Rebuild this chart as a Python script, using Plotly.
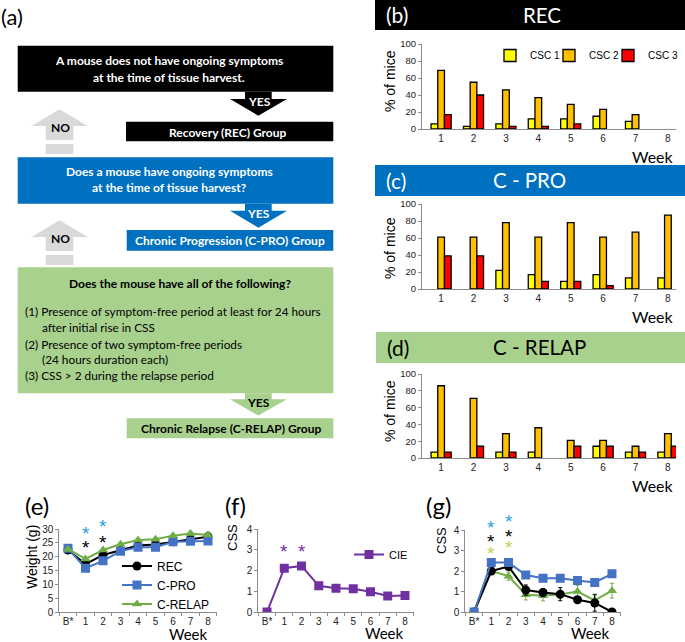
import plotly.graph_objects as go

W, H = 685, 642
def X(px): return px / W
def Y(py): return 1 - py / H

# ---------------- data ----------------
weeks = [1, 2, 3, 4, 5, 6, 7, 8]
csc_labels = ["CSC 1", "CSC 2", "CSC 3"]
rec_csc1 = [6, 3, 6, 12, 12, 15, 9, 0]
rec_csc2 = [69, 55, 46, 37, 29, 23, 17, 0]
rec_csc3 = [17, 40, 3, 3, 6, 0, 0, 0]
cpro_csc1 = [0, 0, 22, 17, 9, 17, 13, 13]
cpro_csc2 = [61, 61, 78, 61, 78, 61, 67, 87]
cpro_csc3 = [39, 39, 0, 9, 9, 4, 0, 0]
crelap_csc1 = [7, 0, 7, 7, 0, 14, 7, 7]
crelap_csc2 = [86, 71, 29, 36, 21, 21, 14, 29]
crelap_csc3 = [7, 14, 7, 0, 14, 14, 7, 14]

time_labels = ["B*", "1", "2", "3", "4", "5", "6", "7", "8"]
time_idx = list(range(9))
weight_rec = [22.4, 17.3, 20.6, 22.2, 24.0, 24.4, 25.4, 26.3, 27.2]
weight_rec_err = [0.4, 0.6, 0.6, 0.5, 0.5, 0.5, 0.6, 0.7, 1.6]
weight_cpro = [23.0, 15.8, 18.5, 22.0, 23.4, 23.4, 25.4, 25.6, 25.7]
weight_cpro_err = [0.4, 0.6, 0.6, 0.5, 0.5, 0.5, 0.5, 0.5, 0.5]
weight_crelap = [22.7, 19.2, 22.4, 24.5, 26.0, 26.3, 27.6, 28.4, 27.8]
weight_crelap_err = [0.4, 0.5, 0.5, 0.5, 0.5, 0.5, 0.5, 0.5, 0.5]

css_cie = [0, 2.11, 2.22, 1.26, 1.15, 1.12, 0.98, 0.77, 0.80]

css_rec = [0, 2.0, 2.22, 1.07, 0.95, 0.87, 0.60, 0.44, 0]
css_rec_err = [0, 0.08, 0.1, 0.25, 0.2, 0.32, 0.12, 0.4, 0]
css_cpro = [0, 2.41, 2.41, 1.80, 1.65, 1.65, 1.54, 1.44, 1.86]
css_cpro_err = [0, 0.1, 0.1, 0.08, 0.08, 0.08, 0.1, 0.1, 0.08]
css_crelap = [0, 2.0, 1.75, 0.84, 0.79, 0.86, 1.0, 0.57, 1.04]
css_crelap_err = [0, 0.1, 0.2, 0.25, 0.25, 0.2, 0.3, 0.3, 0.36]

# ---------------- styles ----------------
bar_colors = ["#ffff00", "#ffc000", "#ff0000"]
legend_entry_widths = [14, 14, 30]
C_REC, C_CPRO, C_CRELAP, C_CIE = "#000000", "#4472c4", "#70ad47", "#7030a0"
BLUE, GREEN, GREY = "#0070c0", "#a9d18e", "#d9d9d9"
AXC = "#8c8c8c"
ARIAL = "Liberation Sans"
CAL = "Lato"

fig = go.Figure()

# ---------------- bar panels ----------------
bar_sets = [
    ([rec_csc1, rec_csc2, rec_csc3], "x", "y"),
    ([cpro_csc1, cpro_csc2, cpro_csc3], "x2", "y2"),
    ([crelap_csc1, crelap_csc2, crelap_csc3], "x3", "y3"),
]
for p, (series, xa, ya) in enumerate(bar_sets):
    for j in range(3):
        vals = series[j]
        fig.add_trace(go.Bar(
            x=weeks, y=vals, name=csc_labels[j], xaxis=xa, yaxis=ya,
            marker=dict(color=bar_colors[j],
                        line=dict(color="black", width=[1.3 if v > 0 else 0 for v in vals])),
            showlegend=(p == 0), legend="legend", legendwidth=legend_entry_widths[j]))

# ---------------- (e) weight ----------------
for name, vals, err, col, sym in [
    ("REC", weight_rec, weight_rec_err, C_REC, "circle"),
    ("C-PRO", weight_cpro, weight_cpro_err, C_CPRO, "square"),
    ("C-RELAP", weight_crelap, weight_crelap_err, C_CRELAP, "triangle-up"),
]:
    fig.add_trace(go.Scatter(
        x=time_idx, y=vals, name=name, mode="lines+markers", xaxis="x4", yaxis="y4",
        line=dict(color=col, width=2), marker=dict(symbol=sym, size=9, color=col),
        error_y=dict(type="data", array=err, color=col, thickness=1, width=2),
        legend="legend2"))

# ---------------- (f) CIE ----------------
fig.add_trace(go.Scatter(
    x=time_idx, y=css_cie, name="CIE", mode="lines+markers", xaxis="x5", yaxis="y5",
    line=dict(color=C_CIE, width=2), marker=dict(symbol="square", size=9, color=C_CIE),
    legend="legend3"))

# ---------------- (g) CSS by group ----------------
for name, vals, err, col, sym in [
    ("C-RELAP", css_crelap, css_crelap_err, C_CRELAP, "triangle-up"),
    ("REC", css_rec, css_rec_err, C_REC, "circle"),
    ("C-PRO", css_cpro, css_cpro_err, C_CPRO, "square"),
]:
    fig.add_trace(go.Scatter(
        x=time_idx, y=vals, name=name, mode="lines+markers", xaxis="x6", yaxis="y6",
        line=dict(color=col, width=2), marker=dict(symbol=sym, size=9, color=col),
        error_y=dict(type="data", array=err, color=col, thickness=1, width=2),
        showlegend=False))

# ---------------- axes ----------------
def bar_x(y_anchor):
    return dict(domain=[X(422), X(676)], range=[0.41, 8.25], tickvals=weeks,
                showline=True, linecolor=AXC, linewidth=1, ticks="", showgrid=False,
                zeroline=False, anchor=y_anchor,
                tickfont=dict(size=10, family=ARIAL, color="#222"))

def bar_y(y0, y100, x_anchor):
    return dict(domain=[Y(y0), Y(y100)], range=[0, 100], dtick=20, showline=True,
                linecolor=AXC, linewidth=1, ticks="outside", ticklen=3, tickcolor=AXC,
                showgrid=False, zeroline=False, anchor=x_anchor,
                tickfont=dict(size=9.5, family=ARIAL, color="#222"))

def line_x(x0, x1, y_anchor):
    return dict(domain=[X(x0), X(x1)], range=[-0.5, 8.5], tickvals=time_idx,
                ticktext=time_labels, showline=True, linecolor=AXC, linewidth=1,
                ticks="", showgrid=False, zeroline=False, anchor=y_anchor,
                minor=dict(tick0=0.5, dtick=1, ticks="outside", ticklen=3, tickcolor=AXC),
                tickfont=dict(size=10, family=ARIAL, color="#222"))

def line_y(rng, dt, ytop, x_anchor):
    return dict(domain=[Y(612), Y(ytop)], range=rng, dtick=dt, showline=True,
                linecolor=AXC, linewidth=1, ticks="outside", ticklen=3, tickcolor=AXC,
                showgrid=False, zeroline=False, anchor=x_anchor,
                tickfont=dict(size=10, family=ARIAL, color="#222"))

# ---------------- flowchart shapes ----------------
shapes = []
def rect(x0, y0, x1, y1, color):
    shapes.append(dict(type="rect", xref="paper", yref="paper", x0=X(x0), x1=X(x1),
                       y0=Y(y1), y1=Y(y0), fillcolor=color, line=dict(width=0), layer="below"))

def poly(points, color):
    path = "M " + " L ".join(f"{X(a):.5f},{Y(b):.5f}" for a, b in points) + " Z"
    shapes.append(dict(type="path", xref="paper", yref="paper", path=path,
                       fillcolor=color, line=dict(width=0), layer="below"))

def down_arrow(top, base, tip, color):
    poly([(245, top), (271.7, top), (271.7, base), (287, base), (258.3, tip),
          (230, base), (245, base)], color)

def up_arrow(tip, color):
    base = tip + 16.7
    poly([(59.5, tip), (87.7, base), (73.3, base), (73.3, base + 14), (45.7, base + 14),
          (45.7, base), (31.7, base)], color)
    rect(45.7, base + 18, 73.3, base + 28, color)

rect(17.7, 45.7, 333.3, 91.7, "black")
down_arrow(91.7, 99, 115.7, "black")
rect(126, 121.7, 333.3, 141.3, "black")
up_arrow(109.3, GREY)
rect(17.7, 157.3, 333.3, 203.7, BLUE)
down_arrow(203.7, 210.7, 227.7, BLUE)
up_arrow(220.3, GREY)
rect(126.7, 230, 333.3, 250.7, BLUE)
rect(17.7, 267.3, 333.3, 393.3, GREEN)
down_arrow(393.3, 399.3, 415.5, GREEN)
rect(126.7, 418.3, 333.3, 438.3, GREEN)

# header bars
rect(375, 0, 685, 30, "black")
rect(375, 165, 685, 196, BLUE)
rect(376, 332, 685, 363, GREEN)

# ---------------- annotations ----------------
anns = []
def ann(text, x, y, size, color="black", family=CAL, angle=0, xanchor="center", bold=False):
    anns.append(dict(text=f"<b>{text}</b>" if bold else text, x=X(x), y=Y(y),
                     xref="paper", yref="paper", showarrow=False, textangle=angle,
                     font=dict(size=size, color=color, family=family),
                     xanchor=xanchor, yanchor="middle"))

FB, FR = 12, 11.8
ann("(a)", 12, 17, 22)
ann("A mouse does not have ongoing symptoms", 169, 60, FB, "white", bold=True)
ann("at the time of tissue harvest.", 169, 77.7, FB, "white", bold=True)
ann("YES", 259, 101.7, FB, "white", bold=True)
ann("NO", 60, 127.3, FB, "black", bold=True)
ann("Recovery (REC) Group", 228, 132.3, FB, "white", bold=True)
ann("Does a mouse have ongoing symptoms", 169, 171.7, FB, "white", bold=True)
ann("at the time of tissue harvest?", 169, 187.7, FB, "white", bold=True)
ann("YES", 258, 213.3, FB, "white", bold=True)
ann("NO", 60, 238.3, FB, "black", bold=True)
ann("Chronic Progression (C-PRO) Group", 230, 240.7, FB, "white", bold=True)
ann("Does the mouse have all of the following?", 180, 283.3, FB, "black", bold=True)
ann("(1) Presence of symptom-free period at least for 24 hours", 23, 311, FR, xanchor="left")
ann("after initial rise in CSS", 40.3, 327.3, FR, xanchor="left")
ann("(2) Presence of two symptom-free periods", 23, 344.3, FR, xanchor="left")
ann("(24 hours duration each)", 40.3, 360, FR, xanchor="left")
ann("(3) CSS > 2 during the relapse period", 23, 376, FR, xanchor="left")
ann("YES", 258, 402.3, FB, "black", bold=True)
ann("Chronic Relapse (C-RELAP) Group", 231, 428.3, FB, "black", bold=True)

# headers
ann("(b)", 397, 15, 21, "white")
ann("REC", 541.5, 15, 20.5, "white")
ann("(c)", 396, 180, 21, "white")
ann("C - PRO", 529, 180, 20.5, "white")
ann("(d)", 397.5, 347, 21, "black")
ann("C - RELAP", 539, 347, 20.5, "black")

# bar axis titles
for yc, yw in [(81, 157), (248, 316), (411, 485)]:
    ann("% of mice", 390, yc, 14, "black", ARIAL, -90)
    ann("Week", 653, yw, 16, "black", CAL)

# line chart titles
ann("(e)", 37, 505, 24)
ann("(f)", 235, 505, 24)
ann("(g)", 439, 505, 24)
ann("Weight (g)", 32, 557, 14, "black", ARIAL, -90)
ann("CSS", 232, 538, 13, "black", ARIAL, -90)
ann("CSS", 441, 541, 13, "black", ARIAL, -90)
ann("Week", 188, 634, 15, "black", CAL)
ann("Week", 384, 633, 15, "black", CAL)
ann("Week", 590, 633, 15, "black", CAL)

# significance asterisks (x in data units, y as fraction of the axis height)
STAR_BLUE, STAR_GREEN = "#2a9fe0", "#b5d65a"
def star(x, y, ymax, xa, ya, color):
    anns.append(dict(text="*", x=x, y=y / ymax, xref=xa, yref=f"{ya} domain",
                     showarrow=False, font=dict(size=19, color=color, family=ARIAL),
                     xanchor="center", yanchor="middle", yshift=-4))

star(1, 30.0, 30, "x4", "y4", STAR_BLUE)
star(2, 32.5, 30, "x4", "y4", STAR_BLUE)
star(1, 24.6, 30, "x4", "y4", "black")
star(2, 26.7, 30, "x4", "y4", "black")
star(1, 3.13, 4, "x5", "y5", C_CIE)
star(2, 3.13, 4, "x5", "y5", C_CIE)
star(1, 4.34, 4, "x6", "y6", STAR_BLUE)
star(2, 4.63, 4, "x6", "y6", STAR_BLUE)
star(1, 3.61, 4, "x6", "y6", "black")
star(2, 3.90, 4, "x6", "y6", "black")
star(1, 3.07, 4, "x6", "y6", STAR_GREEN)
star(2, 3.32, 4, "x6", "y6", STAR_GREEN)

fig.update_layout(
    width=W, height=H, margin=dict(l=0, r=0, t=0, b=0, autoexpand=False),
    paper_bgcolor="white", plot_bgcolor="rgba(0,0,0,0)",
    barmode="group", bargap=0.38, bargroupgap=0,
    font=dict(family=ARIAL, color="black"),
    xaxis=bar_x("y"), yaxis=bar_y(129, 44, "x"),
    xaxis2=bar_x("y2"), yaxis2=bar_y(289, 204, "x2"),
    xaxis3=bar_x("y3"), yaxis3=bar_y(458, 374, "x3"),
    xaxis4=line_x(59.25, 216.75, "y4"), yaxis4=line_y([0, 30], 5, 529, "x4"),
    xaxis5=line_x(258.4, 413.6, "y5"), yaxis5=line_y([0, 4], 1, 529, "x5"),
    xaxis6=line_x(465.4, 620.6, "y6"), yaxis6=line_y([0, 4], 1, 530, "x6"),
    legend=dict(orientation="h", x=X(490), y=Y(41), xanchor="left", yanchor="top",
                font=dict(size=10, family=ARIAL), bgcolor="rgba(0,0,0,0)",
                itemwidth=30, traceorder="normal"),
    legend2=dict(x=X(117), y=Y(585), xanchor="left", yanchor="middle",
                 font=dict(size=12, family=ARIAL), bgcolor="rgba(0,0,0,0)",
                 itemwidth=30, tracegroupgap=0),
    legend3=dict(x=X(349), y=Y(540), xanchor="left", yanchor="top",
                 font=dict(size=11, family=ARIAL), bgcolor="rgba(0,0,0,0)",
                 itemwidth=30),
    shapes=shapes, annotations=anns,
)

fig.write_html("out.html", config={"displayModeBar": False},
               post_script="document.body.style.margin='0';document.body.style.padding='0';")
